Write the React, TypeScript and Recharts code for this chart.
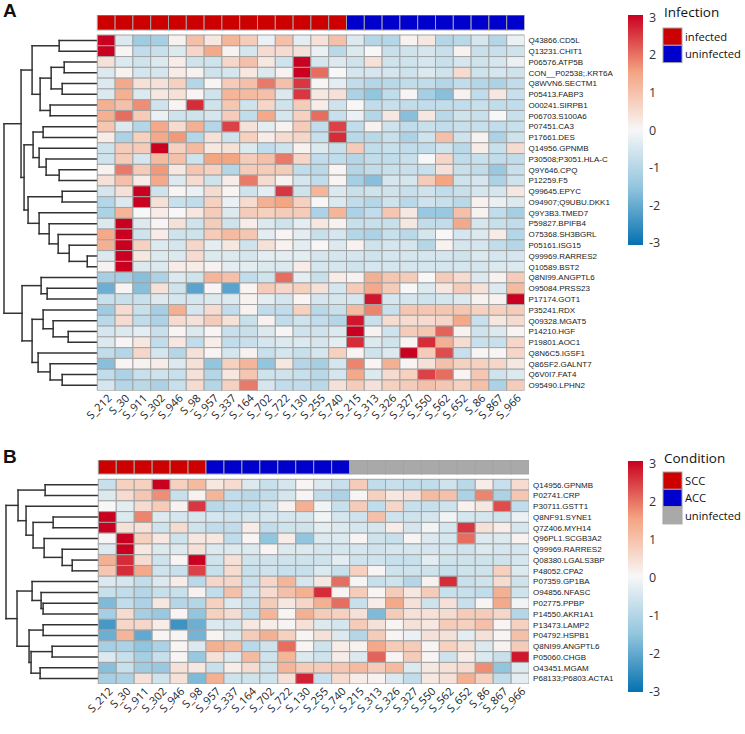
import React from 'react'
import { ScatterChart, Scatter, XAxis, YAxis, ReferenceLine } from 'recharts'

const samples = [
  'S_212', 'S_30', 'S_911', 'S_302', 'S_946', 'S_98', 'S_957', 'S_337', 'S_164', 'S_702', 'S_722', 'S_130',
  'S_255', 'S_740', 'S_215', 'S_313', 'S_326', 'S_327', 'S_550', 'S_562', 'S_652', 'S_86', 'S_867', 'S_966',
]

const infection = [
  'infected', 'infected', 'infected', 'infected', 'infected', 'infected', 'infected', 'infected',
  'infected', 'infected', 'infected', 'infected', 'infected', 'infected',
  'uninfected', 'uninfected', 'uninfected', 'uninfected', 'uninfected',
  'uninfected', 'uninfected', 'uninfected', 'uninfected', 'uninfected',
]

const condition = [
  'SCC', 'SCC', 'SCC', 'SCC', 'SCC', 'SCC',
  'ACC', 'ACC', 'ACC', 'ACC', 'ACC', 'ACC', 'ACC', 'ACC',
  'uninfected', 'uninfected', 'uninfected', 'uninfected', 'uninfected',
  'uninfected', 'uninfected', 'uninfected', 'uninfected', 'uninfected',
]

const infectionLevels = ['infected', 'uninfected']
const conditionLevels = ['SCC', 'ACC', 'uninfected']

const proteinsA = [
  'Q43866.CD5L', 'Q13231.CHIT1', 'P06576.ATP5B', 'CON__P02538;.KRT6A', 'Q8WVN6.SECTM1', 'P05413.FABP3',
  'O00241.SIRPB1', 'P06703.S100A6', 'P07451.CA3', 'P17661.DES', 'Q14956.GPNMB', 'P30508;P3051.HLA-C',
  'Q9Y646.CPQ', 'P12259.F5', 'Q99645.EPYC', 'O94907;Q9UBU.DKK1', 'Q9Y3B3.TMED7', 'P59827.BPIFB4',
  'O75368.SH3BGRL', 'P05161.ISG15', 'Q99969.RARRES2', 'Q10589.BST2', 'Q8NI99.ANGPTL6', 'O95084.PRSS23',
  'P17174.GOT1', 'P35241.RDX', 'Q09328.MGAT5', 'P14210.HGF', 'P19801.AOC1', 'Q8N6C5.IGSF1',
  'Q86SF2.GALNT7', 'Q6V0I7.FAT4', 'O95490.LPHN2',
]

const valuesA = [
  [3, -0.4, -1.3, -1.2, 0.1, 1.0, 0.3, 1.2, 0.8, -0.2, 1.0, -0.3, 0.4, 1.0, -0.4, -1.0, -1.0, 0.1, 0.3, -1.0, -0.9, -0.5, -1.0, -0.2],
  [3, 0.05, -0.8, -0.7, -0.4, 0.6, 1.4, 0.1, -0.5, 0.5, 0.5, 0.4, -0.2, -0.9, -0.4, 0, -0.7, -0.6, -0.5, -0.7, 0.1, -0.7, -0.7, -0.6],
  [0.4, -0.4, -0.6, -0.4, 0.2, -0.6, -0.6, 0.6, 1.0, 0.3, -0.6, 3, -0.5, -0.4, -0.6, 0.4, -0.6, -0.6, -0.5, -0.7, -0.5, -0.6, -0.5, -0.2],
  [-0.4, 0.1, -0.5, -0.5, 0.2, 0.1, -0.6, -0.5, 0.3, -0.4, 0.1, 3, 2.0, 0, -0.5, -0.5, -0.5, -0.6, -0.4, -0.6, 0.5, -0.6, -0.5, -0.6],
  [-0.4, 1.4, 0.4, 0.4, 0.7, -1.0, 0.05, 0.8, 1.0, 1.9, 1.0, 2.5, 0.05, -0.3, -0.8, -1.0, -0.9, -0.8, -0.8, -1.0, -0.8, -1.0, -1.1, -0.8],
  [-0.4, 1.3, -0.4, 0.3, 0.4, 0.05, -0.6, 1.2, 1.1, 1.0, -0.4, 2.5, 0.3, 0.4, -1.1, -1.5, -0.8, 0.05, -1.2, -1.6, 0.1, -0.8, 0.3, -0.7],
  [1.3, 1.0, 1.7, -0.6, 0.05, 2.6, -0.6, 0.9, -0.6, 0.6, -0.6, 0.8, 0.2, -0.6, 0, -0.8, -0.7, -0.8, -0.8, -0.8, -0.8, -0.7, -0.8, -0.8],
  [1.3, 2.0, 0.8, -0.2, -0.6, -0.6, -0.5, 0.8, -0.8, 1.4, -0.5, 0.7, 2.0, -0.7, -0.2, -1.0, 0.3, -1.6, 0.3, -0.9, -0.6, -0.7, 0, -0.7],
  [0.9, -0.4, -1.0, 1.4, 0.5, 1.3, -1.0, 2.4, 0.4, -0.3, 0.1, 0.8, -0.8, 2.4, -0.8, 0.1, -0.6, -0.8, -0.7, -0.8, -0.7, -0.7, -0.8, -0.7],
  [0.2, -1.1, 0.7, 1.4, 1.6, -1.0, 0.4, -0.6, 0.7, 0.2, 0.5, 0.6, -0.7, 2.6, -0.9, -0.9, -0.7, -1.1, -0.6, 1.0, -0.6, 0.1, -1.1, -0.6],
  [-0.6, 0.8, 0.8, 3, 0.7, 1.1, 0.3, 0.4, -0.4, -0.8, -0.6, 0.1, -0.4, -0.7, 0.8, -0.8, -0.7, -0.8, -0.8, -0.6, -0.9, 0.2, -0.7, 0.5],
  [-0.6, 0.8, -0.5, 1.1, 1.0, -0.6, 1.5, 1.5, 0.8, 1.0, 1.9, 0.6, -0.8, -0.8, -1.0, -0.8, -0.8, -0.7, 0, 0.6, -0.8, -0.7, -0.8, -0.8],
  [0.1, 1.9, 0.8, 1.6, 0.3, 0.9, 0.7, -1.0, 0.8, 0.8, 0.8, -0.8, -0.9, 0.05, -1.0, -0.8, -0.7, -0.7, -0.7, 0.4, -0.7, -0.8, -1.4, -0.7],
  [0.4, 1.0, 0.2, 1.4, -0.4, 0.5, -0.6, 0.2, 1.9, 0.5, 0.1, -0.5, -0.8, 0.05, -1.2, -1.6, -0.5, -0.5, 0.8, 1.5, -0.6, -0.5, -1.1, -0.6],
  [-0.5, 0.4, 3, -0.6, 0.05, -0.2, 0.5, 0.05, -0.6, -0.3, 2.5, -0.6, 1.2, -0.4, -0.7, -0.6, -0.6, -0.7, -0.6, -0.8, -0.7, -0.5, -0.5, 0.3],
  [-1.0, -0.4, 3, 0.4, -0.7, -0.8, 0.7, -0.2, 0.5, 1.3, 1.5, 0.7, 0, -0.4, -0.8, -1.0, -0.6, -0.9, -0.6, -0.7, -0.9, 0.1, -0.2, -0.4],
  [-1.1, 1.2, 0, 0.2, 0, 0.3, 0.8, -0.4, 0.8, 0.7, 0.8, 0.8, -1.1, 1.2, -1.1, -0.8, 0.9, 0.3, -1.4, -1.4, 1.0, 0.1, -0.8, -1.2],
  [-0.4, 3, -0.4, 0.05, 0.4, -0.6, 0.8, -0.6, 0.2, -0.4, -0.6, -0.3, 0.3, 0.1, -0.7, -0.7, -0.7, 0.3, -0.8, -0.8, 1.4, -0.5, -0.7, -0.8],
  [1.4, 3, -0.6, 0.2, -0.6, -0.6, 0.8, 1.1, 0.9, -0.3, 0.05, -0.3, -0.7, -0.5, -1.0, -1.1, -0.7, -0.9, -0.5, 0, -0.5, -0.4, 0.2, -1.0],
  [1.3, 3, 0.7, -0.4, -0.5, 0.6, -0.3, 0.3, -0.6, 0.4, 0.1, -0.3, 0, -0.4, 0.1, -0.6, -0.5, -0.5, -1.0, 0.1, -0.5, -0.5, -0.8, -1.0],
  [-0.4, 3, 0.3, -0.4, -0.4, 0.5, -0.4, -0.4, -0.5, -0.3, -0.3, -0.3, -0.5, -0.5, -0.5, -0.6, -0.5, -0.5, -0.5, -0.5, -0.6, -0.4, -0.5, -0.5],
  [0.1, 3, -0.4, -0.4, 0.2, 0.2, 0.1, -0.3, -0.3, -0.4, -0.4, 0.2, -0.5, -0.5, -0.6, -0.5, -0.5, -0.5, -0.5, -0.5, -0.5, -0.5, -0.4, -0.4],
  [-1.2, -1.2, -1.6, -1.1, -0.4, -0.6, 1.2, 1.0, -0.8, -0.6, 2.0, -0.3, -0.7, 0.2, 0.1, 1.3, 0.9, 0.8, 0, 0.8, 0.5, -0.4, 0.1, 0.8],
  [-1.9, 0.05, -1.6, 0.4, -0.6, -2.1, 0.05, -2.1, 0.05, 0.8, 0.6, 0.7, 0.4, -0.5, 0.8, 1.4, 0.8, 0, -0.4, 0.3, 0.8, 0.4, -0.4, 1.1],
  [-0.7, -0.7, -0.7, -0.4, -0.5, -0.5, -0.4, -0.4, 0.1, -0.3, -0.5, 0.05, -0.5, -0.5, -0.5, 2.8, -0.5, -0.5, -0.6, -0.5, -0.4, 0.1, 0.1, 3],
  [-1.3, 0.5, -0.7, -1.2, 1.3, -0.5, 0.5, -0.8, 0.1, -0.8, -0.8, 0.7, -0.9, -0.7, 1.1, 1.8, -0.7, 0.9, 0.9, 0.9, 0.9, 0.7, 0.7, 0.8],
  [-0.9, 0.5, -0.8, -1.1, 0.5, 0.4, 0.8, 0.4, -0.7, 0.1, -0.8, -0.6, -0.8, -1.0, 2.8, -0.7, 0.5, 0.5, 0.5, 0.6, 1.4, -0.7, 0.3, 0.5],
  [-0.5, -0.4, -0.3, -0.7, 0.05, -0.4, 0.05, -0.7, -0.7, -0.4, 0.05, -0.6, -0.6, -0.4, 3, 0.1, -0.6, 0.8, 0.9, 2.1, 0.1, -0.6, -0.4, 0.05],
  [-0.4, 0.05, 0.3, -0.8, 0.3, -0.8, 0.2, -0.8, -0.7, -0.5, -0.4, -0.4, -0.5, -0.3, 2.6, -0.4, -0.6, 0.05, 2.6, 1.3, 0.5, -0.7, -0.7, 0.6],
  [-0.8, -1.0, 0.6, -0.5, -1.0, 0.4, 0.05, -0.5, 0.1, -0.7, -0.5, -0.7, -0.5, 0.7, 0.05, -0.6, -0.4, 3, 0.8, 2.3, -0.7, 0.05, 0.05, 0.6],
  [-1.6, 0.05, 0.1, 0.2, -0.4, 0.4, -1.5, 0.7, 1.2, -1.5, 0.3, -1.0, -1.2, -0.5, 1.8, 0.05, 1.3, 0.05, 0.4, 1.0, 0.7, 0.7, 0.6, 0.3],
  [-0.8, -1.1, -0.7, -0.6, -0.7, 0.4, -1.0, 0.3, 0.9, -0.6, -0.6, -0.7, -0.9, -0.5, 1.4, -0.4, 0.5, 0.7, 2.4, 2.0, 0.05, 0.9, -0.6, -0.4],
  [-0.5, -1.0, -0.9, -1.1, -0.7, 0.5, -1.0, 0.7, 1.9, -0.5, -0.8, -0.8, -0.9, 0.4, 0.8, 0.4, 0.7, 0.8, 1.0, 0.9, 0.7, 1.0, -1.1, 0.8],
]

// row clustering: [left, right, height]; negative = leaf -(row+1), positive = earlier merge (1-based)
const mergesA: [number, number, number][] = [
  [-1, -2, 38], [-3, -4, 33], [-5, -6, 35], [2, 3, 46], [-7, -8, 47], [4, 5, 57], [1, 6, 65],
  [-9, -10, 54], [-13, -14, 38], [-12, 9, 51], [-11, 10, 58], [8, 11, 64],
  [-15, -16, 35], [-21, -22, 10], [-20, 14, 28], [-19, 15, 39], [-18, 16, 48], [-17, 17, 58], [13, 18, 69],
  [12, 19, 73], [7, 20, 76],
  [-24, -25, 50], [-23, 22, 56], [-28, -29, 29], [-27, 24, 44], [-26, 25, 54],
  [-32, -33, 35], [-31, 27, 47], [-30, 28, 59], [26, 29, 65], [23, 30, 75],
  [21, 31, 93],
]

const proteinsB = [
  'Q14956.GPNMB', 'P02741.CRP', 'P30711.GSTT1', 'Q8NF91.SYNE1', 'Q7Z406.MYH14', 'Q96PL1.SCGB3A2',
  'Q99969.RARRES2', 'Q08380.LGALS3BP', 'P48052.CPA2', 'P07359.GP1BA', 'O94856.NFASC', 'P02775.PPBP',
  'P14550.AKR1A1', 'P13473.LAMP2', 'P04792.HSPB1', 'Q8NI99.ANGPTL6', 'P05060.CHGB', 'O43451.MGAM',
  'P68133;P6803.ACTA1',
]

const valuesB = [
  [-0.7, 0.7, 0.7, 3, 0.7, 1.1, 0.3, 0.5, -0.4, -0.7, -0.5, 0.05, -0.4, -0.7, 0.8, -0.8, -0.7, -0.8, -0.8, -0.6, -0.9, 0.2, -0.7, 0.5],
  [-0.4, 0.5, 0.9, 1.7, -0.7, 0.1, 1.2, -0.8, -0.9, -0.8, -0.5, 0.05, -0.8, -1.1, 0.05, 0.7, 0.3, 0.4, 1.1, 1.0, -1.1, 1.8, -1.1, 0.9],
  [0, -0.3, 0.5, 0.8, 0.1, 2.5, -0.9, -0.8, -0.8, -0.6, 0.1, 1.3, -0.1, -0.7, 0.8, -0.8, 0.6, -0.7, -0.7, -0.6, 0.1, 0.3, 2.3, -0.8],
  [3, -0.4, 1.8, -0.4, -0.5, -0.5, -0.5, -0.6, -0.5, -0.5, -0.5, -0.5, -0.1, -0.5, -0.6, 1.0, -0.6, -0.6, -0.5, -0.1, -0.5, -0.5, -0.6, -0.2],
  [3, 0.4, 0.4, -0.6, 0.5, -0.6, -0.8, -0.8, 0.2, -0.8, -0.6, -0.6, -0.3, -0.4, -0.5, -0.5, 0.2, -0.5, -0.1, -0.5, 2.5, 0.4, 0.2, -0.5],
  [0.05, 3, 0.7, 0.3, -0.6, 0.3, 0.3, -0.8, 0.05, -1.5, 0.2, -1.5, -0.4, -0.4, 0.05, -0.6, -0.7, 0.05, -0.4, -0.5, 2.0, -0.4, -0.4, 0.1],
  [-0.4, 3, 0.3, -0.4, -0.4, 0.4, -0.4, -0.4, -0.4, 0.05, -0.4, -0.4, -0.5, -0.5, -0.5, -0.6, -0.5, -0.5, -0.5, -0.5, -0.6, -0.4, -0.5, -0.5],
  [1.3, 2.6, 0.5, -0.6, 0.05, 3, -0.6, 0.4, -0.6, -0.6, -0.6, -0.6, -0.6, -0.3, -0.6, -0.6, -0.7, -0.7, -0.3, -0.6, -0.6, -0.6, -0.6, -0.5],
  [0.9, 2.6, 1.4, -0.6, -0.7, 2.4, -0.7, 0.5, -0.7, -0.6, -0.7, -0.7, -0.4, -0.7, 0.7, 0.05, -0.6, -0.6, -0.6, -0.7, -0.6, -0.6, 0.7, -0.4],
  [-0.4, -0.5, -0.8, -0.4, 0.2, -0.9, 0.6, 0.6, -0.7, 0.6, 1.2, -0.5, 0.3, 2.0, 0.05, -0.7, -0.6, -1.0, 0.1, 2.6, -0.7, -0.6, 0.5, -0.6],
  [-0.7, -0.8, -1.0, -0.7, -0.7, 0.1, -0.8, 1.0, -0.6, 0.5, 1.0, 1.3, 2.6, 0.05, 0.8, 0.05, 0.8, 0.3, 0.8, -0.7, -0.7, -0.8, 1.3, -0.6],
  [-1.7, -0.8, -1.1, 0.3, -1.0, -1.0, 0.7, -0.4, -0.7, 0.8, 0.3, 0.6, 1.3, 2.0, -0.7, 0.2, 1.4, 0.4, -0.6, 0.4, -0.7, 0.05, 1.4, -0.1],
  [-1.2, 0.5, -1.2, -1.4, 0.05, -1.5, 0.7, 0.5, -0.8, 1.2, 0.05, 1.3, 0.8, 0.7, 0.4, -1.7, 0.8, 0.4, 0.4, 0.5, 0.8, 0.8, 0.6, -1.0],
  [-2.3, 0.6, 0.6, 0.2, -2.4, -1.9, -0.4, -0.5, 0.3, 0.2, 0.05, 0.4, -0.4, -0.5, 0.8, 0.4, 0.05, 0.4, 0.3, 0.8, 0.7, 1.0, 0.05, 0.7],
  [-1.9, 1.2, -2.0, 0.05, 0.05, -1.8, 0.05, -0.4, 0.8, 1.3, 0.7, 0.05, 0.4, -0.4, -1.0, 0.8, 0.05, -0.2, 0.4, 0.4, -0.3, 0.4, 0.05, 1.0],
  [-1.2, -1.1, -1.5, -1.1, 0.05, -0.4, 1.3, 1.1, -0.9, -0.6, 2.0, 0.05, -0.6, 0.2, 0.1, 1.4, 0.8, 0.8, 0.05, 0.7, 0.4, -0.4, 0.1, 0.8],
  [-0.4, -0.7, -1.2, -0.7, 0.05, -1.4, 0.4, -0.4, 1.1, -0.6, 1.2, -0.4, -0.6, 0.2, -0.4, 2.1, 0.05, 0.8, 0.05, -0.6, 0.2, -0.4, -0.7, 2.8],
  [-1.6, -0.7, -1.3, -1.4, 0.4, 0.3, -0.7, 0.2, 0.5, -0.6, 1.2, 0.8, 0.8, 0.9, 1.1, 0.8, 1.1, -0.4, 0.3, 0.4, 0.5, 1.7, -1.5, -0.4],
  [-1.2, -1.1, 0.4, -0.6, 0.4, -1.7, 1.3, -0.6, -0.6, -0.6, 0.4, 2.7, -0.7, 0.5, 0.2, 0.1, -0.4, -0.8, 0.3, 0.4, 1.3, 0.7, -0.8, -0.3],
]

const mergesB: [number, number, number][] = [
  [-1, -2, 53], [-8, -9, 26], [-7, 2, 36], [-6, 3, 54], [-4, -5, 45], [5, 4, 65], [-3, 6, 72], [1, 7, 80],
  [-12, -13, 55], [-11, 9, 57], [-10, 10, 66], [-14, -15, 55], [-16, -17, 46], [-18, -19, 58],
  [13, 14, 67], [12, 15, 69], [11, 16, 81],
  [8, 17, 92],
]

const scaleTicks = [3, 2, 1, 0, -1, -2, -3]

const GROUP_COLORS: Record<string, string> = {
  infected: '#CD0000',
  uninfected: '#0000CD',
  SCC: '#CD0000',
  ACC: '#0000CD',
}
const GREY_GROUP = '#A9A9A9'

const RAMP: [number, number[]][] = [
  [-3, [5, 113, 176]],
  [-1.5, [146, 197, 222]],
  [0, [247, 247, 247]],
  [1.5, [244, 165, 130]],
  [3, [202, 0, 32]],
]

function heatColor(v: number) {
  const t = Math.max(-3, Math.min(3, v))
  for (let i = 0; i < RAMP.length - 1; i++) {
    const [a, ca] = RAMP[i]
    const [b, cb] = RAMP[i + 1]
    if (t <= b) {
      const f = (t - a) / (b - a)
      const c = ca.map((x, k) => Math.round(x + (cb[k] - x) * f))
      return `rgb(${c[0]},${c[1]},${c[2]})`
    }
  }
  return 'rgb(202,0,32)'
}

const CHART_W = 745
const LABEL_W = 100
const X_AXIS_H = 46
const BORDER = '#A3A3A3'

const LAYOUT_A = { top: 0, height: 440, left: 4, plotTop: 15, dendroW: 93.3, cellW: 17.8, rowH: 10.78, annoH: 15, gap: 5 }
const LAYOUT_B = { top: 445, height: 289, left: 6, plotTop: 15, dendroW: 92.3, cellW: 17.95, rowH: 10.77, annoH: 14, gap: 5.3 }

function dendroSegments(merges: [number, number, number][], rootX: number) {
  const maxH = Math.max(...merges.map((m) => m[2]))
  const nodes: { x: number; y: number }[] = []
  const pos = (ref: number) => (ref < 0 ? { x: 0, y: -ref - 0.5 } : nodes[ref - 1])
  const segs: number[][] = []
  merges.forEach(([a, b, h]) => {
    const pa = pos(a)
    const pb = pos(b)
    const x = (rootX * h) / maxH
    segs.push([pa.x, pa.y, x, pa.y], [x, pa.y, x, pb.y], [x, pb.y, pb.x, pb.y])
    nodes.push({ x, y: (pa.y + pb.y) / 2 })
  })
  return segs
}

const ColTick = (props: any) => {
  const { x, y, payload } = props
  return (
    <text
      transform={`translate(${x + 3},${y + 3}) rotate(-45)`}
      textAnchor="end"
      dominantBaseline="central"
      fontSize={11}
      fontFamily="'Open Sans', sans-serif"
      fill="#222"
    >
      {samples[Math.floor(payload.value)]}
    </text>
  )
}

function HeatPanel({ layout, proteins, values, merges, groups, greyUninfected }: any) {
  const nRows = proteins.length
  const nCols = samples.length
  const xMin = -layout.dendroW / layout.cellW
  const yMin = -(layout.annoH + layout.gap) / layout.rowH
  const annoY = -(layout.gap + layout.annoH / 2) / layout.rowH
  const plotW = layout.dendroW + nCols * layout.cellW
  const plotH = layout.annoH + layout.gap + nRows * layout.rowH
  const margin = {
    top: layout.plotTop,
    left: layout.left,
    right: CHART_W - layout.left - plotW - LABEL_W,
    bottom: layout.height - layout.plotTop - plotH - X_AXIS_H,
  }

  const cells = values.flatMap((row: number[], r: number) => row.map((v, c) => ({ x: c + 0.5, y: r + 0.5, v })))
  const anno = groups.map((g: string, c: number) => ({ x: c + 0.5, y: annoY, g }))
  const segs = dendroSegments(merges, xMin)
  const rowTicks = proteins.map((_: string, i: number) => i + 0.5)
  const colTicks = samples.map((_, i) => i + 0.5)
  const groupFill = (g: string) => (greyUninfected && g === 'uninfected' ? GREY_GROUP : GROUP_COLORS[g])

  return (
    <div style={{ position: 'absolute', left: 0, top: layout.top }}>
      <ScatterChart width={CHART_W} height={layout.height} margin={margin}>
        <XAxis
          type="number"
          dataKey="x"
          domain={[xMin, nCols]}
          allowDataOverflow
          ticks={colTicks}
          interval={0}
          tick={<ColTick />}
          tickLine={false}
          axisLine={false}
          tickSize={0}
          height={X_AXIS_H}
        />
        <YAxis
          type="number"
          dataKey="y"
          orientation="right"
          domain={[yMin, nRows]}
          reversed
          allowDataOverflow
          ticks={rowTicks}
          interval={0}
          tickFormatter={(v: number) => proteins[Math.floor(v)]}
          tick={{ fontSize: 8, fill: '#1a1a1a', fontFamily: "'Liberation Sans', Arial, sans-serif" }}
          tickLine={false}
          axisLine={false}
          tickSize={0}
          tickMargin={4}
          width={LABEL_W}
        />
        {segs.map((s, i) => (
          <ReferenceLine
            key={i}
            segment={[{ x: s[0], y: s[1] }, { x: s[2], y: s[3] }]}
            stroke="#333"
            strokeWidth={1.5}
            strokeLinecap="square"
            ifOverflow="visible"
          />
        ))}
        <Scatter
          data={anno}
          isAnimationActive={false}
          shape={(p: any) => (
            <rect
              x={p.cx - layout.cellW / 2}
              y={p.cy - layout.annoH / 2}
              width={layout.cellW}
              height={layout.annoH}
              fill={groupFill(p.payload.g)}
              stroke={BORDER}
              strokeWidth={1}
            />
          )}
        />
        <Scatter
          data={cells}
          isAnimationActive={false}
          shape={(p: any) => (
            <rect
              x={p.cx - layout.cellW / 2}
              y={p.cy - layout.rowH / 2}
              width={layout.cellW}
              height={layout.rowH}
              fill={heatColor(p.payload.v)}
              stroke={BORDER}
              strokeWidth={1}
            />
          )}
        />
      </ScatterChart>
    </div>
  )
}

function Legends() {
  const font = "'Open Sans', sans-serif"
  const legends = [
    { barTop: 15, barBottom: 245, tick3: 17.2, step: 37.6, titleY: 12, title: 'Infection', levels: infectionLevels, boxTop: 28, boxH: 17.3, grey: false },
    { barTop: 461, barBottom: 692, tick3: 463, step: 38, titleY: 458, title: 'Condition', levels: conditionLevels, boxTop: 472, boxH: 17.3, grey: true },
  ]
  return (
    <svg width={CHART_W} height={734} style={{ position: 'absolute', left: 0, top: 0, pointerEvents: 'none' }}>
      <defs>
        <linearGradient id="heatRamp" x1="0" y1="0" x2="0" y2="1">
          {RAMP.slice().reverse().map(([v], i) => (
            <stop key={i} offset={(3 - v) / 6} stopColor={heatColor(v)} />
          ))}
        </linearGradient>
      </defs>
      <text x={3} y={17} fontSize={19} fontWeight="bold" fontFamily="'Liberation Sans', Arial, sans-serif" fill="#111">A</text>
      <text x={3} y={463} fontSize={19} fontWeight="bold" fontFamily="'Liberation Sans', Arial, sans-serif" fill="#111">B</text>
      {legends.map((lg, k) => (
        <g key={k}>
          <rect x={628} y={lg.barTop} width={15} height={lg.barBottom - lg.barTop} fill="url(#heatRamp)" />
          {scaleTicks.map((t) => (
            <text key={t} x={649} y={lg.tick3 + (3 - t) * lg.step} dominantBaseline="central" fontSize={12.5} fontFamily={font} fill="#333">
              {t}
            </text>
          ))}
          <text x={664} y={lg.titleY} dominantBaseline="central" fontSize={13.5} fontFamily={font} fill="#111">{lg.title}</text>
          {lg.levels.map((g, i) => (
            <g key={g}>
              <rect
                x={663}
                y={lg.boxTop + i * lg.boxH}
                width={19}
                height={lg.boxH}
                fill={lg.grey && g === 'uninfected' ? GREY_GROUP : GROUP_COLORS[g]}
                stroke={BORDER}
              />
              <text x={685} y={lg.boxTop + (i + 0.5) * lg.boxH} dominantBaseline="central" fontSize={11.2} fontFamily={font} fill="#111">
                {g}
              </text>
            </g>
          ))}
        </g>
      ))}
    </svg>
  )
}

export default function App() {
  return (
    <div style={{ position: 'absolute', left: 0, top: 0, width: CHART_W, height: 734, background: '#fff' }}>
      <HeatPanel layout={LAYOUT_A} proteins={proteinsA} values={valuesA} merges={mergesA} groups={infection} greyUninfected={false} />
      <HeatPanel layout={LAYOUT_B} proteins={proteinsB} values={valuesB} merges={mergesB} groups={condition} greyUninfected />
      <Legends />
    </div>
  )
}
